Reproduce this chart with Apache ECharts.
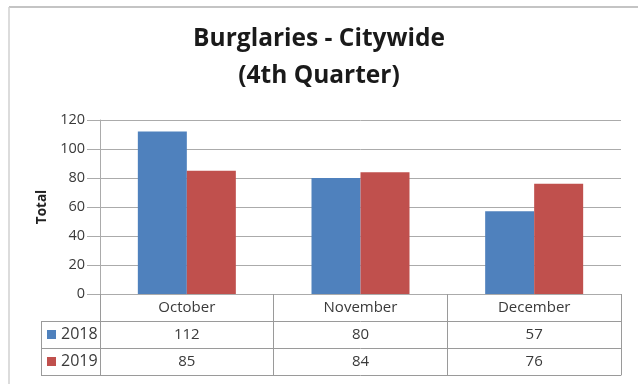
<!DOCTYPE html>
<html>
<head>
<meta charset="utf-8">
<script src="https://cdn.jsdelivr.net/npm/echarts@6/dist/echarts.min.js"></script>
<style>
  html, body { margin: 0; padding: 0; background: #fff; }
  #chart { width: 638px; height: 384px; }
</style>
</head>
<body>
<div id="chart"></div>
<script>
// Monthly burglary totals, 4th quarter, by year
const months = ['October', 'November', 'December'];
const years = ['2018', '2019'];
const values2018 = [112, 80, 57];
const values2019 = [85, 84, 76];
const yTicks = [0, 20, 40, 60, 80, 100, 120];
const titleLines = ['Burglaries - Citywide', '(4th Quarter)'];

const FONT = 'Open Sans';
const BLUE = '#4F81BD';
const RED = '#C0504D';
const GRID_GRAY = '#ababab';
const TABLE_GRAY = '#9a9a9a';
const TEXT = '#3a3a3a';

// plot frame and data-table geometry
const W = 638, H = 384;
const PLOT_LEFT = 100, PLOT_RIGHT = 621, PLOT_TOP = 120, ZERO_Y = 294;
const ROW_H = 27;
const KEY_LEFT = 41;

const chart = echarts.init(document.getElementById('chart'));

// one bottom category axis per table row; its labels fill the row cells
function tableAxis(offset, labels, withTicks) {
  return {
    type: 'category',
    data: labels,
    position: 'bottom',
    offset: offset,
    axisLine: { show: true, lineStyle: { color: offset === 0 ? GRID_GRAY : TABLE_GRAY, width: 1 } },
    axisTick: { show: withTicks, alignWithLabel: false, inside: false, length: ROW_H,
                lineStyle: { color: TABLE_GRAY, width: 1 } },
    axisLabel: { show: withTicks, margin: 0, lineHeight: ROW_H, fontSize: 15,
                 fontFamily: FONT, color: TEXT, interval: 0 },
    splitLine: { show: false }
  };
}

// left-hand key column of the data table
const keyLines = [];
for (let r = 1; r <= 3; r++) {
  const y = ZERO_Y + r * ROW_H + 0.5;
  keyLines.push({ type: 'line', shape: { x1: KEY_LEFT, y1: y, x2: PLOT_LEFT, y2: y },
                  style: { stroke: TABLE_GRAY, lineWidth: 1 } });
}
keyLines.push({ type: 'line',
  shape: { x1: KEY_LEFT + 0.5, y1: ZERO_Y + ROW_H, x2: KEY_LEFT + 0.5, y2: ZERO_Y + 3 * ROW_H },
  style: { stroke: TABLE_GRAY, lineWidth: 1 } });

chart.setOption({
  animation: false,
  backgroundColor: '#fff',
  legend: {
    data: years,
    orient: 'vertical',
    left: 47,
    top: ZERO_Y + ROW_H,
    padding: 0,
    height: 2 * ROW_H + 10,
    itemGap: 0,
    itemWidth: 9,
    itemHeight: 9,
    icon: 'rect',
    selectedMode: false,
    textStyle: { fontFamily: FONT, fontSize: 16, color: TEXT, lineHeight: ROW_H }
  },
  grid: { left: PLOT_LEFT, right: W - PLOT_RIGHT, top: PLOT_TOP, bottom: H - ZERO_Y, containLabel: false },
  xAxis: [
    tableAxis(0, months, true),
    tableAxis(ROW_H, values2018.map(String), true),
    tableAxis(2 * ROW_H, values2019.map(String), true),
    tableAxis(3 * ROW_H, months, false)
  ],
  yAxis: {
    type: 'value',
    min: yTicks[0],
    max: yTicks[yTicks.length - 1],
    interval: yTicks[1] - yTicks[0],
    name: 'Total',
    nameLocation: 'middle',
    nameRotate: 90,
    nameGap: 49,
    nameTextStyle: { fontFamily: FONT, fontWeight: 'bold', fontSize: 13.5, color: '#222' },
    axisLine: { show: true, lineStyle: { color: GRID_GRAY } },
    axisTick: { show: true, inside: false, length: 13, lineStyle: { color: GRID_GRAY } },
    axisLabel: { margin: 15, fontFamily: FONT, fontSize: 14.5, color: TEXT },
    splitLine: { show: true, lineStyle: { color: GRID_GRAY, width: 1 } }
  },
  series: [
    { name: years[0], type: 'bar', data: values2018, barWidth: 49, barGap: '0%',
      itemStyle: { color: BLUE } },
    { name: years[1], type: 'bar', data: values2019, barWidth: 49, barGap: '0%',
      itemStyle: { color: RED } }
  ],
  graphic: [
    // two-line centred heading
    { type: 'text', x: W / 2, y: 21,
      style: { text: titleLines.join('\n'), align: 'center', verticalAlign: 'top',
               fontFamily: FONT, fontWeight: 'bold', fontSize: 24.5, lineHeight: 37, fill: '#1a1a1a' } },
    // chart frame
    { type: 'line', shape: { x1: 9, y1: 7, x2: W, y2: 7 }, style: { stroke: '#c4c4c4', lineWidth: 2 } },
    { type: 'line', shape: { x1: 9, y1: 7, x2: 9, y2: H }, style: { stroke: '#d0d0d0', lineWidth: 1.5 } }
  ].concat(keyLines)
});
</script>
</body>
</html>
